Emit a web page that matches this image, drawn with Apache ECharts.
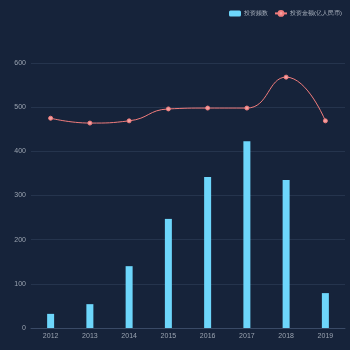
<!DOCTYPE html>
<html><head><meta charset="utf-8">
<script src="https://cdn.jsdelivr.net/npm/echarts@6/dist/echarts.min.js"></script>
<style>html,body{margin:0;padding:0;background:#16233a;}#c{width:350px;height:350px;}</style>
</head><body><div id="c"></div>
<script>
var years = ['2012','2013','2014','2015','2016','2017','2018','2019'];
var counts = [32, 54, 140, 247, 342, 423, 335, 79];
var amounts = [475, 464, 469, 496, 498, 498, 568, 469];
var yTicks = [0, 100, 200, 300, 400, 500, 600];
var chart = echarts.init(document.getElementById('c'));
chart.setOption({
  backgroundColor: '#16233a',
  animation: false,
  legend: {
    top: 5, right: 3, itemWidth: 12, itemHeight: 6, itemGap: 6,
    textStyle: {color: '#b0b8c4', fontSize: 6, padding: [0,0,0,-2]},
    data: ['投资频数', '投资金额(亿人民币)']
  },
  grid: {left: 31, right: 5, top: 63, bottom: 22},
  xAxis: {
    type: 'category', data: years,
    axisLine: {lineStyle: {color: '#3a4a66'}},
    axisTick: {show: false},
    axisLabel: {color: '#9aa3b0', fontSize: 7, margin: 5}
  },
  yAxis: {
    type: 'value', min: 0, max: 600, interval: 100,
    axisLine: {show: false}, axisTick: {show: false},
    axisLabel: {color: '#9aa3b0', fontSize: 7, margin: 5},
    splitLine: {lineStyle: {color: '#25344d'}}
  },
  series: [
    {name: '投资频数', type: 'bar', data: counts, barWidth: 7,
     itemStyle: {color: '#6dd6fb'}},
    {name: '投资金额(亿人民币)', type: 'line', data: amounts, smooth: true,
     symbol: 'circle', symbolSize: 4,
     lineStyle: {color: '#f07c7c', width: 1},
     itemStyle: {color: '#f5a0a0', borderColor: '#f07c7c', borderWidth: 1}}
  ]
});
</script></body></html>
